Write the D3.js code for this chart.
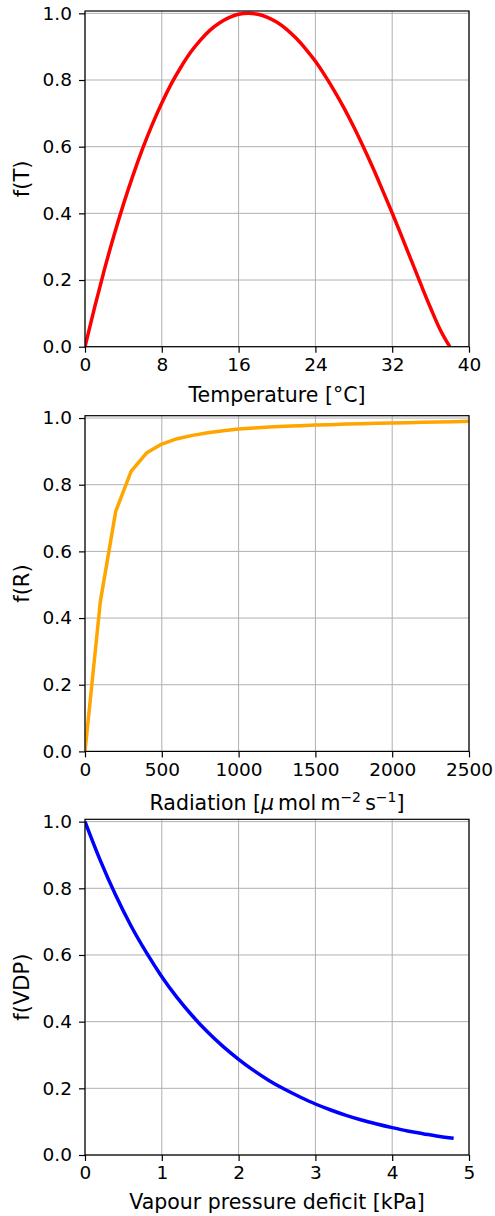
<!DOCTYPE html>
<html>
<head>
<meta charset="utf-8">
<script src="https://cdn.jsdelivr.net/npm/d3@7"></script>
<style>
  html, body { margin: 0; padding: 0; background: #fff; }
  svg { display: block; }
  text { font-family: "DejaVu Sans", sans-serif; fill: #000; }
</style>
</head>
<body>
<svg id="chart" width="495" height="1216"></svg>
<script>
// Temperature response f(T)
const tempC = [0,1,2,3,4,5,6,7,8,9,10,11,12,13,14,15,16,17,18,19,20,21,22,23,24,25,26,27,28,29,30,31,32,33,34,35,36,37,38];
const fTemp = [0,0.118,0.229,0.332,0.427,0.514,0.594,0.666,0.731,0.789,0.839,0.883,0.919,0.949,0.971,0.987,0.997,1.0,0.997,0.988,0.973,0.952,0.925,0.893,0.856,0.813,0.766,0.715,0.659,0.599,0.536,0.469,0.401,0.330,0.258,0.186,0.116,0.051,0];

// Radiation response f(R)
const radiation = [0,100,200,300,400,500,600,700,800,900,1000,1100,1200,1300,1400,1500,1600,1700,1800,1900,2000,2100,2200,2300,2400,2500];
const fRad = [0,0.45,0.72,0.84,0.895,0.922,0.938,0.948,0.956,0.962,0.967,0.970,0.973,0.975,0.977,0.979,0.980,0.982,0.983,0.984,0.985,0.986,0.987,0.988,0.989,0.990];

// Vapour pressure deficit response f(VPD)
const vpd = [0,0.2,0.4,0.6,0.8,1.0,1.2,1.4,1.6,1.8,2.0,2.2,2.4,2.6,2.8,3.0,3.2,3.4,3.6,3.8,4.0,4.2,4.4,4.6,4.8];
const fVpd = [1.0,0.883,0.779,0.687,0.607,0.535,0.472,0.417,0.368,0.325,0.287,0.253,0.223,0.197,0.174,0.153,0.135,0.119,0.105,0.093,0.082,0.072,0.064,0.056,0.050];

// Axis ticks
const tempTicks = [0,8,16,24,32,40];
const radTicks = [0,500,1000,1500,2000,2500];
const vpdTicks = [0,1,2,3,4,5];
const fTicks = [0,0.2,0.4,0.6,0.8,1.0];

const panels = [
  { x: tempC, y: fTemp, xDomain: [0, 40], xTicks: tempTicks, color: "#ff0000",
    ylabel: "f(T)", xlabel: [{t: "Temperature ["}, {t: "°"}, {t: "C]"}], curve: d3.curveMonotoneX,
    top: 11, labelDy: 55 },
  { x: radiation, y: fRad, xDomain: [0, 2500], xTicks: radTicks, color: "#ffa500",
    ylabel: "f(R)", xlabel: [{t: "Radiation ["}, {t: "μ", it: true}, {t: "\u2009mol\u2009m"}, {t: "−2", sup: true}, {t: "\u2009s"}, {t: "−1", sup: true}, {t: "]"}],
    curve: d3.curveLinear, top: 415.7, labelDy: 58.5 },
  { x: vpd, y: fVpd, xDomain: [0, 5], xTicks: vpdTicks, color: "#0000ff",
    ylabel: "f(VDP)", xlabel: [{t: "Vapour pressure deficit [kPa]"}], curve: d3.curveMonotoneX,
    top: 819.3, labelDy: 53.5 }
];

const left = 85, right = 469, plotH = 335.7;
const yMax = 1.007;
const svg = d3.select("#chart");

panels.forEach(p => {
  const bottom = p.top + plotH;
  const xs = d3.scaleLinear().domain(p.xDomain).range([left, right]);
  const ys = d3.scaleLinear().domain([0, yMax]).range([bottom, p.top]);
  const g = svg.append("g");

  // grid
  g.append("g").selectAll("line").data(p.xTicks).join("line")
    .attr("x1", d => xs(d)).attr("x2", d => xs(d))
    .attr("y1", p.top).attr("y2", bottom)
    .attr("stroke", "#b0b0b0").attr("stroke-width", 1);
  g.append("g").selectAll("line").data(fTicks).join("line")
    .attr("x1", left).attr("x2", right)
    .attr("y1", d => ys(d)).attr("y2", d => ys(d))
    .attr("stroke", "#b0b0b0").attr("stroke-width", 1);

  // curve
  const clipId = "clip" + Math.round(p.top);
  svg.append("clipPath").attr("id", clipId).append("rect")
    .attr("x", left).attr("y", p.top).attr("width", right - left).attr("height", plotH);
  const line = d3.line().x((d, i) => xs(p.x[i])).y(d => ys(d)).curve(p.curve);
  g.append("path").datum(p.y)
    .attr("d", line)
    .attr("clip-path", `url(#${clipId})`)
    .attr("fill", "none").attr("stroke", p.color)
    .attr("stroke-width", 3.5).attr("stroke-linejoin", "round");

  // axes
  const xAxis = d3.axisBottom(xs).tickValues(p.xTicks).tickFormat(d3.format("d"))
    .tickSizeInner(6).tickSizeOuter(0).tickPadding(5);
  const yAxis = d3.axisLeft(ys).tickValues(fTicks).tickFormat(d3.format(".1f"))
    .tickSizeInner(6).tickSizeOuter(0).tickPadding(7);
  const gx = g.append("g").attr("transform", `translate(0,${bottom})`).call(xAxis);
  const gy = g.append("g").attr("transform", `translate(${left},0)`).call(yAxis);
  [gx, gy].forEach(a => {
    a.select(".domain").remove();
    a.selectAll(".tick line").attr("stroke", "#000").attr("stroke-width", 1.2);
    a.selectAll(".tick text").attr("font-size", 18.5).attr("font-family", "DejaVu Sans").attr("fill", "#000");
  });

  // frame
  g.append("rect").attr("x", left).attr("y", p.top).attr("width", right - left).attr("height", plotH)
    .attr("fill", "none").attr("stroke", "#000").attr("stroke-width", 1.2);

  // x label
  const xl = g.append("text").attr("x", (left + right) / 2).attr("y", bottom + p.labelDy)
    .attr("text-anchor", "middle").attr("font-size", 20.5);
  p.xlabel.forEach((s, i) => {
    const ts = xl.append("tspan").text(s.t);
    if (s.it) ts.attr("font-style", "italic");
    if (s.sup) ts.attr("font-size", 14).attr("dy", -8);
    else if (i > 0 && p.xlabel[i - 1].sup) ts.attr("dy", 8);
  });

  // y label
  g.append("text")
    .attr("transform", `translate(29,${p.top + plotH / 2}) rotate(-90)`)
    .attr("text-anchor", "middle").attr("font-size", 21)
    .text(p.ylabel);
});
</script>
</body>
</html>
